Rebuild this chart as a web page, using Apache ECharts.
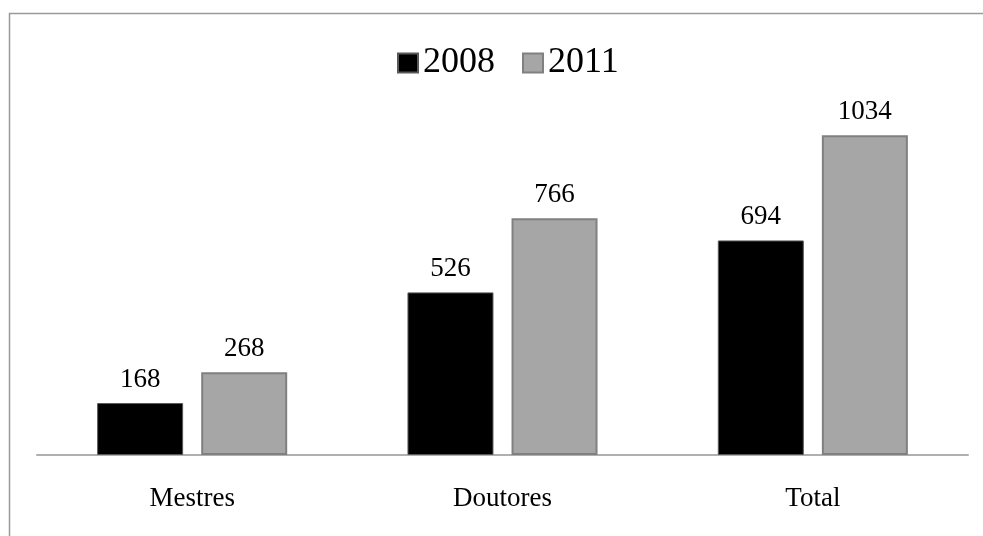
<!DOCTYPE html>
<html>
<head>
<meta charset="utf-8">
<script src="https://cdn.jsdelivr.net/npm/echarts@6/dist/echarts.min.js"></script>
<style>
html,body{margin:0;padding:0;background:#fff;}
#chart{width:983px;height:536px;}
</style>
</head>
<body>
<div id="chart"></div>
<script>
const categories = ['Mestres', 'Doutores', 'Total'];
const values2008 = [168, 526, 694];
const values2011 = [268, 766, 1034];
const seriesNames = ['2008', '2011'];

const FONT = '"Liberation Serif", "Times New Roman", serif';
const chart = echarts.init(document.getElementById('chart'), null, {renderer: 'canvas'});
chart.setOption({
  animation: false,
  backgroundColor: '#fff',
  graphic: [{
    type: 'polyline',
    shape: {points: [[9.5, 600], [9.5, 13.5], [1000, 13.5]]},
    style: {stroke: '#9a9a9a', lineWidth: 1.5, fill: null},
    silent: true
  }],
  legend: {
    data: seriesNames,
    left: 392,
    top: 40,
    icon: 'rect',
    itemWidth: 20,
    itemHeight: 19,
    itemGap: 27,
    textStyle: {fontFamily: FONT, fontSize: 36, color: '#000'}
  },
  grid: {left: 37, right: 15, top: 84, bottom: 81, containLabel: false},
  xAxis: {
    type: 'category',
    data: categories,
    axisLine: {lineStyle: {color: '#b0b0b0', width: 2}},
    axisTick: {show: false},
    axisLabel: {fontFamily: FONT, fontSize: 27, color: '#000', margin: 30}
  },
  yAxis: {
    type: 'value',
    min: 0,
    max: 1200,
    show: false,
    splitLine: {show: false}
  },
  series: [
    {
      name: seriesNames[0],
      type: 'bar',
      data: values2008,
      barWidth: 86,
      barGap: '21%',
      itemStyle: {color: '#000', borderColor: '#595959', borderWidth: 1},
      label: {show: true, position: 'top', distance: 10, fontFamily: FONT, fontSize: 27, color: '#000'}
    },
    {
      name: seriesNames[1],
      type: 'bar',
      data: values2011,
      barWidth: 86,
      itemStyle: {color: '#a6a6a6', borderColor: '#808080', borderWidth: 2},
      label: {show: true, position: 'top', distance: 10, fontFamily: FONT, fontSize: 27, color: '#000'}
    }
  ]
});
</script>
</body>
</html>
